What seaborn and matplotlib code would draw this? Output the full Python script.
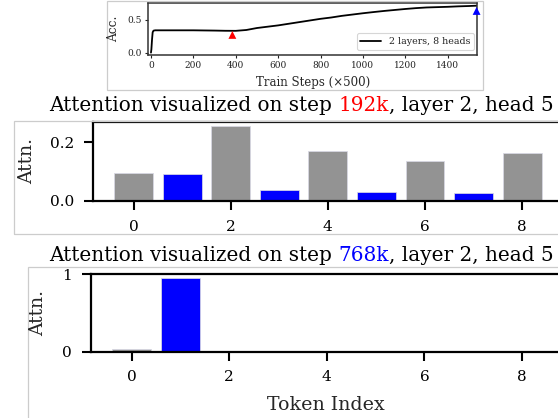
import matplotlib
matplotlib.use("Agg")
import matplotlib.pyplot as plt
import seaborn as sns
import pandas as pd
from matplotlib.patches import Rectangle

# ---------------- data ----------------
train_steps = [0, 2, 5, 8, 12, 20, 50, 100, 150, 200, 250, 300, 350, 400, 450,
               500, 550, 600, 650, 700, 750, 800, 850, 900, 950, 1000, 1050,
               1100, 1150, 1200, 1250, 1300, 1350, 1400, 1450, 1500, 1536]
accuracy = [0.0, 0.05, 0.2, 0.31, 0.335, 0.34, 0.34, 0.34, 0.34, 0.34, 0.338,
            0.336, 0.333, 0.332, 0.345, 0.375, 0.395, 0.415, 0.44, 0.465, 0.49,
            0.515, 0.535, 0.56, 0.58, 0.60, 0.618, 0.635, 0.65, 0.665, 0.678,
            0.688, 0.693, 0.698, 0.705, 0.71, 0.715]
series_label = "2 layers, 8 heads"
marker_steps = [384, 1536]
marker_acc = [0.27, 0.635]
marker_names = ["192k", "768k"]
marker_colors = {"192k": "red", "768k": "blue"}
top_xticks = [0, 200, 400, 600, 800, 1000, 1200, 1400]
top_yticks = [0.0, 0.5]

token_index = [0, 1, 2, 3, 4, 5, 6, 7, 8]
token_group = ["other", "key", "other", "key", "other", "key", "other", "key", "other"]
attn_192k = [0.095, 0.0925, 0.2555, 0.036, 0.169, 0.030, 0.135, 0.028, 0.165]
attn_768k = [0.03, 0.957, 0.001, 0.001, 0.001, 0.001, 0.002, 0.001, 0.001]
group_colors = {"other": "#939393", "key": "#0000ff"}
bar_xticks = [0, 2, 4, 6, 8]
mid_yticks = [0.0, 0.2]
bot_yticks = [0, 1]
title_192k = [("Attention visualized on step ", "black"), ("192k", "red"),
              (", layer 2, head 5", "black")]
title_768k = [("Attention visualized on step ", "black"), ("768k", "blue"),
              (", layer 2, head 5", "black")]

# ---------------- style ----------------
sns.set_style("ticks")
plt.rcParams["font.family"] = ["DejaVu Serif"]
plt.rcParams["mathtext.fontset"] = "dejavuserif"

W, H = 558, 418
fig = plt.figure(figsize=(W / 100, H / 100), dpi=100)
fig.patch.set_facecolor("white")


def fx(px):
    return px / W


def fy(py):
    return 1 - py / H


def rect(l, t, r, b):
    return [fx(l), fy(b), (r - l) / W, (b - t) / H]


# frames around sub-figures
for (l, t, r, b) in [(107, 0.5, 483, 90), (14, 121, 620, 234), (28, 267, 620, 440)]:
    fig.add_artist(Rectangle((fx(l), fy(b)), (r - l) / W, (b - t) / H,
                             transform=fig.transFigure, fill=False,
                             edgecolor="#cccccc", lw=0.9, clip_on=False))

# ---------------- top: accuracy curve ----------------
ax0 = fig.add_axes(rect(148, 3, 477, 55))
sns.lineplot(x=train_steps, y=accuracy, color="black", lw=1.3,
             label=series_label, ax=ax0)
sns.scatterplot(x=marker_steps, y=marker_acc, hue=marker_names,
                palette=marker_colors, marker="^", s=32, linewidth=0,
                legend=False, ax=ax0, zorder=5, clip_on=False)
ax0.set_xlim(-14, 1538)
ax0.set_ylim(-0.036, 0.756)
ax0.set_xticks(top_xticks)
ax0.set_yticks(top_yticks)
ax0.set_yticklabels(["0.0", "0.5"])
ax0.tick_params(labelsize=6.5, length=2.4, width=0.8, pad=2.2, colors="#222222")
for s in ax0.spines.values():
    s.set_color("#333333")
    s.set_linewidth(1.1)
ax0.set_xlabel("")
ax0.set_ylabel("")
fig.text(fx(313), fy(82.5), "Train Steps (×500)", ha="center", va="center",
         fontsize=8.5)
fig.text(fx(114), fy(29), "Acc.", ha="center", va="center", rotation=90,
         fontsize=8.7)
leg = ax0.legend(loc="lower right", bbox_to_anchor=(fx(474), fy(50)),
                 bbox_transform=fig.transFigure, borderaxespad=0,
                 fontsize=6.8, frameon=True, handlelength=2.2)
leg.get_frame().set_edgecolor("#cccccc")
leg.get_frame().set_linewidth(0.8)


# ---------------- helper for coloured titles ----------------
def colored_title(x_px, base_px, pieces, target_width, **kw):
    renderer = fig.canvas.get_renderer()

    def width(s, size):
        t = fig.text(0, 0, s, fontsize=size, **kw)
        w = t.get_window_extent(renderer).width
        t.remove()
        return w

    whole = "".join(p[0] for p in pieces)
    size = 10.0 * target_width / width(whole, 10.0)
    full = ""
    for text, color in pieces:
        start = width(full + text, size) - width(text, size) if full else 0.0
        fig.text(fx(x_px + start), fy(base_px), text, color=color,
                 ha="left", va="baseline", fontsize=size, **kw)
        full += text


# ---------------- bar panels ----------------
def bar_panel(box, values, yticks, ylabels, ylabel_xy):
    ax = fig.add_axes(rect(*box))
    df = pd.DataFrame({"token": token_index, "attn": values, "group": token_group})
    sns.barplot(data=df, x="token", y="attn", hue="group", palette=group_colors,
                dodge=False, legend=False, width=0.8, saturation=1,
                edgecolor="#d8d8e4", linewidth=0.55, ax=ax)
    ax.set_xlim(-0.84, 8.84)
    ax.set_ylim(0, max(values) * 1.05)
    ax.set_xticks(bar_xticks)
    ax.set_xticklabels([str(v) for v in bar_xticks])
    ax.set_yticks(yticks)
    ax.set_yticklabels(ylabels)
    ax.tick_params(labelsize=11, length=6.5, width=1.5, pad=7, colors="black")
    for s in ax.spines.values():
        s.set_color("black")
        s.set_linewidth(1.6)
    ax.set_xlabel("")
    ax.set_ylabel("")
    fig.text(fx(ylabel_xy[0]), fy(ylabel_xy[1]), "Attn.", ha="center",
             va="center", rotation=90, fontsize=13.5)
    return ax


ax1 = bar_panel((92.7, 122.3, 563, 201), attn_192k, mid_yticks, ["0.0", "0.2"],
                (26.7, 161.5))
ax2 = bar_panel((90.7, 274, 563, 351.7), attn_768k, bot_yticks, ["0", "1"],
                (38.5, 313))
fig.text(fx(326), fy(405), "Token Index", ha="center", va="center", fontsize=13.7)

colored_title(49.3, 110.7, title_192k, 502)
colored_title(49.3, 260.7, title_768k, 502)

fig.savefig("out.png", dpi=100, facecolor="white")
